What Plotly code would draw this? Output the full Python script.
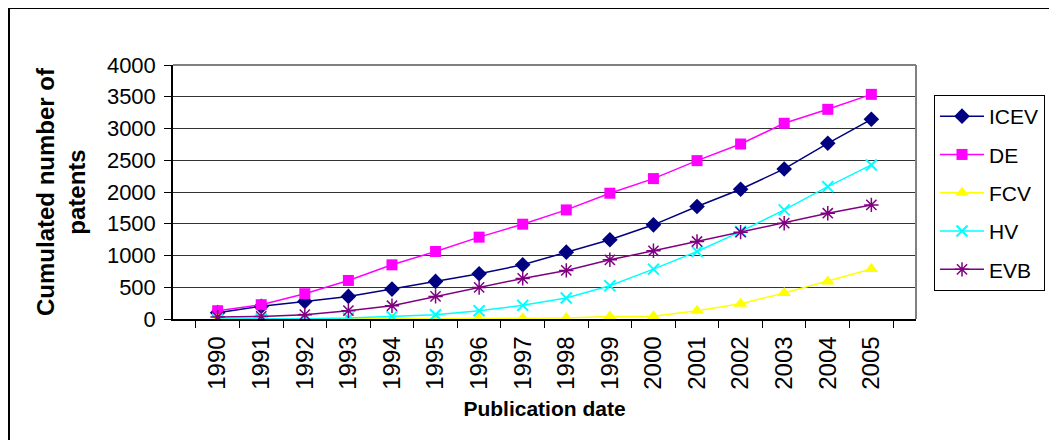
import plotly.graph_objects as go

years = [str(y) for y in range(1990, 2006)]
icev = [100, 199, 277, 356, 471, 592, 712, 854, 1053, 1247, 1483, 1771, 2044, 2363, 2767, 3145]
de = [130, 225, 398, 607, 853, 1063, 1289, 1493, 1718, 1981, 2211, 2494, 2756, 3082, 3302, 3538]
fcv = [0, 0, 0, 0, 2, 4, 6, 12, 16, 38, 42, 130, 241, 409, 592, 786]
hv = [0, 0, 5, 15, 40, 68, 131, 215, 330, 524, 786, 1063, 1377, 1718, 2085, 2426]
evb = [30, 41, 68, 131, 209, 356, 497, 639, 765, 932, 1074, 1221, 1368, 1509, 1666, 1797]

FONT = "Liberation Sans, Arial, sans-serif"

series = [
    ("ICEV", icev, "#000080", dict(symbol="diamond", size=12)),
    ("DE", de, "#FF00FF", dict(symbol="square", size=11)),
    ("FCV", fcv, "#FFFF00", dict(symbol="triangle-up", size=12)),
    ("HV", hv, "#00FFFF", dict(symbol="x-thin", size=11, line=dict(width=2, color="#00FFFF"))),
    ("EVB", evb, "#800080", dict(symbol="asterisk", size=12, line=dict(width=1.5, color="#800080"))),
]

fig = go.Figure()
for name, vals, col, mk in series:
    mk = dict(mk)
    mk.setdefault("color", col)
    fig.add_trace(go.Scatter(
        x=years, y=vals, name=name, mode="lines+markers",
        line=dict(color=col, width=1.5), marker=mk, legendgroup=name,
    ))

# page body has an 8px offset; target pixel coords are relative to the window
OFF = 8
W, H = 1057 - OFF, 448 - 2 * OFF
L, T = 173 - OFF, 65 - OFF
pw, ph = 743, 254
R = W - L - pw
B = H - T - ph

def px(x):
    return (x - OFF - L) / pw

def py(y):
    return (T + ph - (y - OFF)) / ph

fig.update_layout(
    width=W, height=H,
    margin=dict(l=L, r=R, t=T, b=B, pad=0),
    paper_bgcolor="white", plot_bgcolor="white",
    font=dict(family=FONT, size=22, color="black"),
    showlegend=True,
    legend=dict(
        x=px(934), y=py(95), xanchor="left", yanchor="top",
        bordercolor="black", borderwidth=1, bgcolor="white",
        font=dict(size=21), traceorder="grouped", tracegroupgap=8,
        itemwidth=44,
    ),
    xaxis=dict(
        type="category", tickson="boundaries", ticks="outside", ticklen=7,
        tickcolor="black", showline=True, linecolor="black", linewidth=1.5,
        tickangle=-90, showgrid=False, tickfont=dict(size=24), ticklabelstandoff=6,
        title=dict(text="<b>Publication date</b>", font=dict(size=21), standoff=13),
    ),
    yaxis=dict(
        range=[0, 4000], dtick=500, ticks="outside", ticklen=7, tickcolor="black",
        showline=True, linecolor="black", linewidth=1.5,
        showgrid=True, gridcolor="#333333", gridwidth=1,
        zeroline=False, ticklabelstandoff=4, tickfont=dict(size=22),
        title=dict(text="<b>Cumulated number of<br>patents</b>", font=dict(size=24), standoff=14),
    ),
    shapes=[
        dict(type="line", xref="paper", yref="paper", x0=0, x1=1, y0=1, y1=1,
             line=dict(color="#808080", width=2)),
        dict(type="line", xref="paper", yref="paper", x0=1, x1=1, y0=0, y1=1,
             line=dict(color="#808080", width=2)),
        dict(type="line", xref="paper", yref="paper", x0=px(9), x1=px(1080),
             y0=py(8), y1=py(8), line=dict(color="black", width=2)),
        dict(type="line", xref="paper", yref="paper", x0=px(9), x1=px(9),
             y0=py(8), y1=py(480), line=dict(color="black", width=2)),
    ],
)

fig.write_html("out.html")
